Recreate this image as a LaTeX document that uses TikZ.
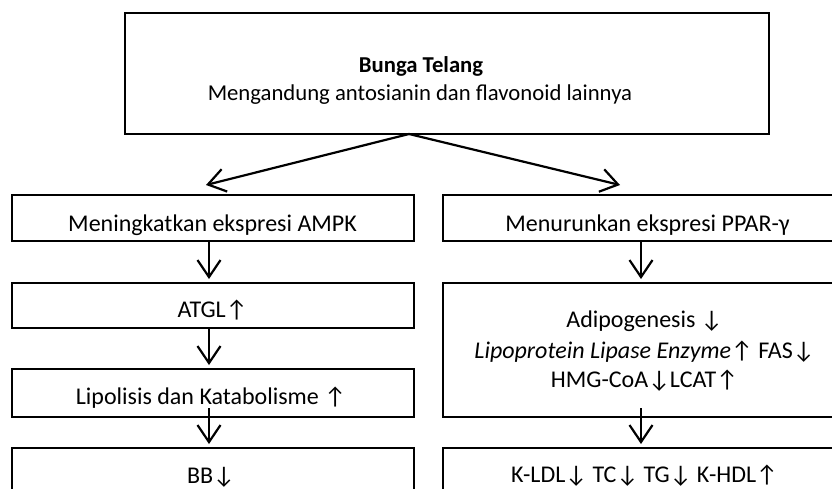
\documentclass[tikz,border=0pt]{standalone}
\usepackage{fontspec}
\setmainfont{Carlito}
\usetikzlibrary{arrows.meta}
\begin{document}
\begin{tikzpicture}[x=1pt,y=-1pt,
  box/.style={draw=black,line width=1.8pt,inner sep=0pt,outer sep=0pt,minimum width=402pt},
  txt/.style={anchor=base,inner sep=0pt,font=\fontsize{24}{30}\selectfont},
  toptxt/.style={anchor=base,inner sep=0pt,font=\fontsize{22.7}{28}\selectfont},
  arr/.style={-{Straight Barb[length=17pt,width=23pt,line width=2.2pt]},line width=2.2pt}]
\clip (0,0) rectangle (832,488);
% boxes
\node[box,minimum width=644pt,minimum height=121pt] (top) at (447,73.5) {};
\node[box,minimum height=46pt] (lb1) at (213,218) {};
\node[box,minimum height=45pt] (lb2) at (213,305.5) {};
\node[box,minimum height=48pt] (lb3) at (213,393) {};
\node[box,minimum height=72pt] (lb4) at (213,484) {};
\node[box,minimum height=46pt] (rb1) at (644,218) {};
\node[box,minimum height=134pt] (rb2) at (644,350) {};
\node[box,minimum height=72pt] (rb3) at (644,484) {};
% texts
\node[toptxt] (t0a) at (421,72) {\bfseries Bunga Telang};
\node[toptxt] (t0b) at (420,100) {Mengandung antosianin dan flavonoid lainnya};
\begin{scope}
\clip (lb1.south west) rectangle (lb1.north east);
\node[txt] (lt1) at (212.5,231) {Meningkatkan ekspresi AMPK};
\end{scope}
\node[txt] (lt2) at (212.5,317) {ATGL↑};
\begin{scope}
\clip (lb3.south west) rectangle (lb3.north east);
\node[txt] (lt3) at (211,404) {Lipolisis dan Katabolisme ↑};
\end{scope}
\node[txt] (lt4) at (211,483) {BB↓};
\begin{scope}
\clip (rb1.south west) rectangle (rb1.north east);
\node[txt] (rt1) at (647.5,231) {Menurunkan ekspresi PPAR-γ};
\end{scope}
\node[txt] (rt2a) at (644.5,327) {Adipogenesis ↓};
\node[txt] (rt2b) at (644.5,358) {\itshape Lipoprotein Lipase Enzyme\upshape↑ FAS↓};
\node[txt] (rt2c) at (644.5,387) {HMG-CoA↓LCAT↑};
\node[txt] (rt3) at (644.5,482) {K-LDL↓ TC↓ TG↓ K-HDL↑};
% connectors
\coordinate (apex) at ([xshift=-38pt]top.south);
\coordinate (ltip) at (206,185);
\coordinate (rtip) at (620,185);
\coordinate (lx) at (209,0);
\coordinate (rx) at (641,0);
\draw[arr] (apex) -- (ltip);
\draw[arr] (apex) -- (rtip);
\draw[arr,shorten >=4pt] (lb1.south -| lx) -- (lb2.north -| lx);
\draw[arr,shorten >=4pt] (lb2.south -| lx) -- (lb3.north -| lx);
\draw[arr,shorten >=4pt] ([yshift=9pt]lb3.south -| lx) -- (lb4.north -| lx);
\draw[arr,shorten >=4pt] (rb1.south -| rx) -- (rb2.north -| rx);
\draw[arr,shorten >=4pt] ([yshift=9pt]rb2.south -| rx) -- (rb3.north -| rx);
\end{tikzpicture}
\end{document}
